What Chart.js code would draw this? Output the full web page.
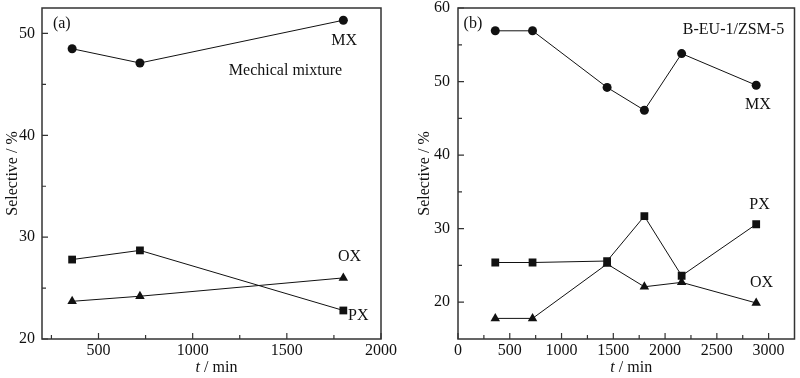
<!DOCTYPE html>
<html>
<head>
<meta charset="utf-8">
<script src="https://cdn.jsdelivr.net/npm/chart.js@4.4.1/dist/chart.umd.min.js"></script>
<style>
html, body { margin: 0; padding: 0; background: #fff; }
#wrap { position: relative; width: 800px; height: 378px; }
canvas { position: absolute; top: 0; }
#chartA { left: 0; }
#chartB { left: 400px; }
</style>
</head>
<body>
<div id="wrap">
    <canvas id="chartA" width="400" height="378"></canvas>
    <canvas id="chartB" width="400" height="378"></canvas>
</div>
<script>
// (a) Mechical mixture
const timesA = [360, 720, 1800];
const mxA = [48.5, 47.1, 51.3];
const pxA = [27.8, 28.7, 22.8];
const oxA = [23.7, 24.2, 26.0];
const xTicksA = [500, 1000, 1500, 2000];
const xMinorA = [250, 750, 1250, 1750];
const yTicksA = [20, 30, 40, 50];
const yMinorA = [25, 35, 45];

// (b) B-EU-1/ZSM-5
const timesB = [360, 720, 1440, 1800, 2160, 2880];
const mxB = [56.9, 56.9, 49.2, 46.1, 53.8, 49.5];
const pxB = [25.4, 25.4, 25.6, 31.7, 23.6, 30.6];
const oxB = [17.8, 17.8, 25.2, 22.1, 22.7, 19.9];
const xTicksB = [0, 500, 1000, 1500, 2000, 2500, 3000];
const xMinorB = [250, 750, 1250, 1750, 2250, 2750];
const yTicksB = [20, 30, 40, 50, 60];
const yMinorB = [25, 35, 45, 55];

const FONT = '"Liberation Serif", "Times New Roman", serif';
const FSIZE = 16;
Chart.defaults.font.family = FONT;
Chart.defaults.font.size = FSIZE;
Chart.defaults.color = '#111';

/**
 * Draw the box frame, inward tick marks, x title and text notes
 */
const framePlugin = {
    id: 'frame',
    afterDraw: (chart, args, opts) => {
        const ctx = chart.ctx;
        const { left, right, top, bottom } = chart.chartArea;
        const xs = chart.scales.x;
        const ys = chart.scales.y;
        ctx.save();
        ctx.strokeStyle = '#333';
        ctx.lineWidth = 1.5;
        ctx.strokeRect(left, top, right - left, bottom - top);

        ctx.lineWidth = 1.2;
        ctx.beginPath();
        opts.xMajor.forEach((v) => {
            const p = xs.getPixelForValue(v);
            ctx.moveTo(p, bottom);
            ctx.lineTo(p, bottom - 6);
        });
        opts.xMinor.forEach((v) => {
            const p = xs.getPixelForValue(v);
            ctx.moveTo(p, bottom);
            ctx.lineTo(p, bottom - 4);
        });
        opts.yMajor.forEach((v) => {
            const p = ys.getPixelForValue(v);
            ctx.moveTo(left, p);
            ctx.lineTo(left + 6, p);
        });
        opts.yMinor.forEach((v) => {
            const p = ys.getPixelForValue(v);
            ctx.moveTo(left, p);
            ctx.lineTo(left + 4, p);
        });
        ctx.stroke();

        // x axis title, italic t
        ctx.fillStyle = '#111';
        ctx.textBaseline = 'middle';
        ctx.font = `italic ${FSIZE}px ${FONT}`;
        const wT = ctx.measureText('t').width;
        ctx.font = `${FSIZE}px ${FONT}`;
        const wRest = ctx.measureText(' / min').width;
        const cx = (left + right) / 2 + opts.titleShift;
        const x0 = cx - (wT + wRest) / 2;
        ctx.font = `italic ${FSIZE}px ${FONT}`;
        ctx.textAlign = 'left';
        ctx.fillText('t', x0, 368);
        ctx.font = `${FSIZE}px ${FONT}`;
        ctx.fillText(' / min', x0 + wT, 368);

        // notes
        opts.notes.forEach((n) => {
            ctx.textAlign = n.align;
            ctx.fillText(n.text, xs.getPixelForValue(n.x), ys.getPixelForValue(n.y));
        });
        ctx.restore();
    },
};

function makeSeries(times, vals, style, r) {
    return {
        data: times.map((t, i) => ({ x: t, y: vals[i] })),
        borderColor: '#111',
        backgroundColor: '#111',
        borderWidth: 1,
        pointStyle: style,
        pointRadius: r,
        pointBorderWidth: 0,
        tension: 0,
    };
}

function makeChart(canvas, cfg) {
    return new Chart(canvas, {
        type: 'line',
        data: {
            datasets: [
                makeSeries(cfg.times, cfg.mx, 'circle', 4.5),
                makeSeries(cfg.times, cfg.px, 'rect', 5.5),
                makeSeries(cfg.times, cfg.ox, 'triangle', 5.5),
            ],
        },
        plugins: [framePlugin],
        options: {
            responsive: false,
            animation: false,
            layout: { padding: { top: 8, right: cfg.padRight, left: 0, bottom: 0 } },
            plugins: {
                legend: { display: false },
                tooltip: { enabled: false },
                frame: {
                    xMajor: cfg.xTicks,
                    xMinor: cfg.xMinor,
                    yMajor: cfg.yTicks,
                    yMinor: cfg.yMinor,
                    notes: cfg.notes,
                    titleShift: 5,
                },
            },
            scales: {
                x: {
                    type: 'linear',
                    min: cfg.xMin,
                    max: cfg.xMax,
                    grid: { display: false, drawTicks: false },
                    border: { display: false },
                    afterBuildTicks: (s) => {
                        s.ticks = cfg.xTicks.map((v) => ({ value: v }));
                    },
                    afterFit: (s) => {
                        s.height = 39;
                        s.paddingLeft = 0;
                        s.paddingRight = 0;
                    },
                    ticks: {
                        padding: 2,
                        maxRotation: 0,
                        autoSkip: false,
                        callback: (v) => String(v),
                    },
                },
                y: {
                    type: 'linear',
                    min: cfg.yMin,
                    max: cfg.yMax,
                    grid: { display: false, drawTicks: false },
                    border: { display: false },
                    afterBuildTicks: (s) => {
                        s.ticks = cfg.yTicks.map((v) => ({ value: v }));
                    },
                    afterFit: (s) => {
                        s.width = cfg.yWidth;
                        s.paddingTop = 0;
                        s.paddingBottom = 0;
                    },
                    ticks: {
                        padding: cfg.yPad,
                        autoSkip: false,
                        callback: (v) => String(v),
                    },
                    title: {
                        display: true,
                        text: 'Selective / %',
                        padding: { top: cfg.titlePad, bottom: 0 },
                    },
                },
            },
        },
    });
}

makeChart(document.getElementById('chartA'), {
    times: timesA, mx: mxA, px: pxA, ox: oxA,
    xTicks: xTicksA, xMinor: xMinorA, yTicks: yTicksA, yMinor: yMinorA,
    xMin: 200, xMax: 2000, yMin: 20, yMax: 52.5,
    yWidth: 42, padRight: 19, yPad: 7, titlePad: 3,
    notes: [
        { text: '(a)', x: 258, y: 50.9, align: 'left' },
        { text: 'MX', x: 1804, y: 49.3, align: 'center' },
        { text: 'Mechical mixture', x: 1493, y: 46.3, align: 'center' },
        { text: 'OX', x: 1833, y: 28.05, align: 'center' },
        { text: 'PX', x: 1825, y: 22.26, align: 'left' },
    ],
});

makeChart(document.getElementById('chartB'), {
    times: timesB, mx: mxB, px: pxB, ox: oxB,
    xTicks: xTicksB, xMinor: xMinorB, yTicks: yTicksB, yMinor: yMinorB,
    xMin: 0, xMax: 3250, yMin: 15, yMax: 60,
    yWidth: 58, padRight: 1, yPad: 8, titlePad: 15,
    notes: [
        { text: '(b)', x: 54, y: 57.8, align: 'left' },
        { text: 'B-EU-1/ZSM-5', x: 3150, y: 57.0, align: 'right' },
        { text: 'MX', x: 2896, y: 46.8, align: 'center' },
        { text: 'PX', x: 2912, y: 33.2, align: 'center' },
        { text: 'OX', x: 2931, y: 22.6, align: 'center' },
    ],
});
</script>
</body>
</html>
